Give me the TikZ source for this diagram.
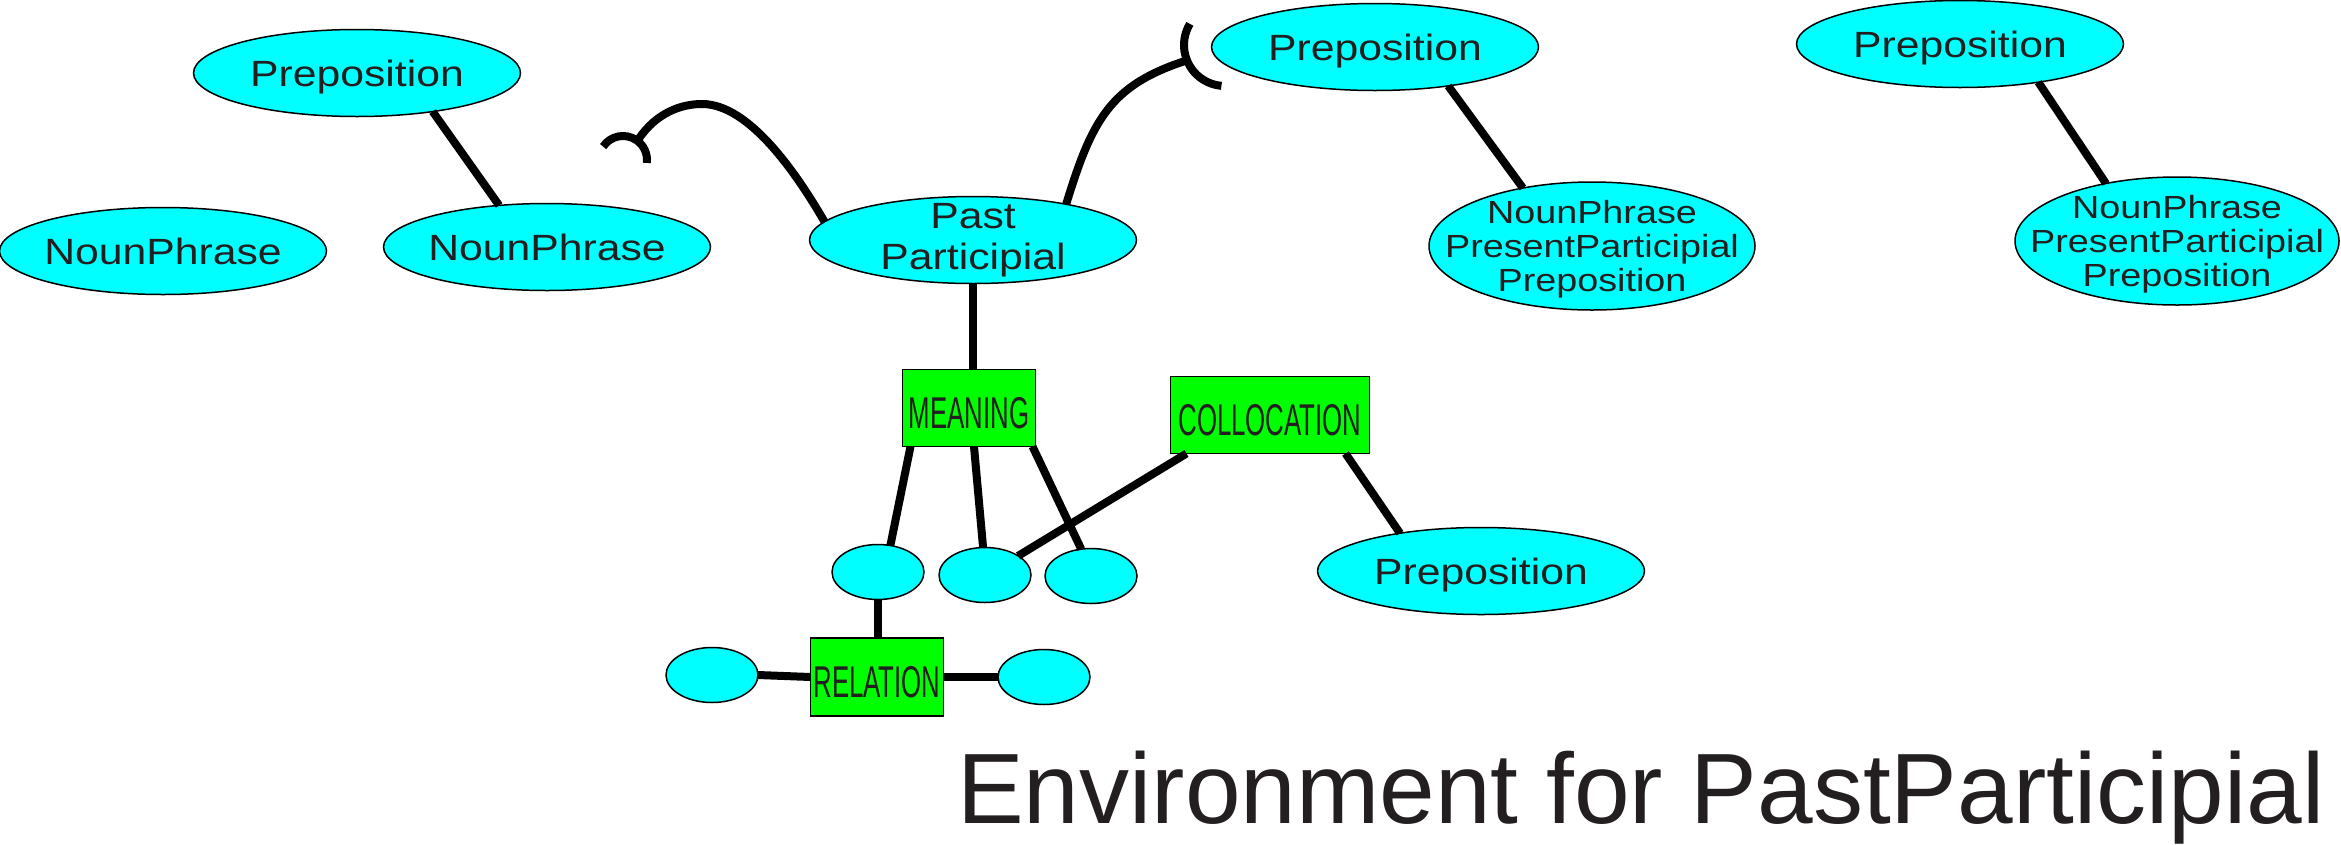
\documentclass[tikz,border=0pt]{standalone}
\usepackage{fontspec}
\setmainfont{Liberation Sans}
\newfontfamily\elfont[FakeStretch=1.17]{Liberation Sans}
\newfontfamily\elfontb[FakeStretch=1.18]{Liberation Sans}
\newfontfamily\bxfont[FakeStretch=0.58]{Liberation Sans}
\usetikzlibrary{shapes.geometric}
\definecolor{elcyan}{RGB}{0,255,255}
\definecolor{bxgreen}{RGB}{0,255,0}
\definecolor{ink}{RGB}{35,31,32}
\begin{document}
\begin{tikzpicture}[x=1pt,y=-1pt,
  ell/.style={ellipse, draw=black, line width=1.5pt, fill=elcyan, inner sep=-400pt, outer sep=0pt,
    text=ink, font=\elfont\fontsize{36.5}{41}\selectfont, minimum width=327pt, minimum height=87pt},
  ellone/.style={ell, text height=26pt, text depth=0pt},
  elltwo/.style={ell, align=center},
  ellthree/.style={ell, align=center, font=\elfontb\fontsize{32}{34}\selectfont, minimum width=326pt, minimum height=128pt},
  small/.style={ell, minimum width=92pt, minimum height=55pt},
  gbox/.style={rectangle, draw=black, line width=1.5pt, fill=bxgreen, inner sep=0pt, outer sep=0pt,
    text=ink, font=\bxfont\fontsize{44.5}{50}\selectfont, text height=40pt, text depth=0pt},
  conn/.style={draw=black, line width=8pt}]
\useasboundingbox (0,0) rectangle (2341,844);

% ellipses
\node[ellone] (ptl) at (357,73) {Preposition};
\node[ellone] (npl) at (163,251) {NounPhrase};
\node[ellone] (np2) at (547,247) {NounPhrase};
\node[elltwo] (pp) at (973,240) {Past\\Participial};
\node[ellone] (ptm) at (1375,47) {Preposition};
\node[ellthree] (npm) at (1592,246) {\rule{0pt}{30pt}NounPhrase\\PresentParticipial\\Preposition};
\node[ellone] (ptr) at (1960,44) {Preposition};
\node[ellthree, minimum width=324pt] (npr) at (2177,241) {\rule{0pt}{30pt}NounPhrase\\PresentParticipial\\Preposition};
\node[ellone] (pb) at (1481,571) {Preposition};

\node[small] (e1) at (878,572) {};
\node[small] (e2) at (985,575) {};
\node[small] (e3) at (1091,576) {};
\node[small] (eL) at (712,675) {};
\node[small] (eR) at (1044,677) {};

% boxes
\node[gbox, minimum width=133pt, minimum height=77pt] (m) at (969,408) {MEANING};
\node[gbox, minimum width=199pt, minimum height=77pt] (c) at (1270,415) {COLLOCATION};
\node[gbox, minimum width=133pt, minimum height=78pt] (r) at (877,677) {RELATION};

% straight connectors
\draw[conn] (ptl.-27) -- (np2.139);
\draw[conn] (ptm.-28) -- (npm.140);
\draw[conn] (ptr.-26) -- (npr.141);
\draw[conn] (pp.south) -- (pp.south |- m.north);
\draw[conn] ([xshift=8pt]m.south west) -- (e1.65);
\draw[conn] ([xshift=5pt]m.south) -- (e2.94);
\draw[conn] ([xshift=-3pt]m.south east) -- (e3.110);
\draw[conn] ([xshift=16pt]c.south west) -- (e2.30);
\draw[conn] ([xshift=-24pt]c.south east) -- (pb.155);
\draw[conn] (e1.south) -- (e1.south |- r.north);
\draw[conn] (eL.east) -- (r.west);
\draw[conn] (r.east) -- (eR.west);

% socket connectors
\coordinate (k1) at (623,160);
\coordinate (k2) at (1225,45);
\coordinate (s1) at ([shift={(-53:24)}]k1);
\coordinate (s2) at ([shift={(-202:41)}]k2);
\draw[conn] (pp.173) .. controls (798,176) and (750,104) .. (702,104)
  .. controls (675,104) and (652,118) .. (s1);
\draw[conn] (k1) ++(-146:24) arc[start angle=-146, end angle=7, radius=24];
\draw[conn] (pp.21) .. controls (1092,120) and (1110,85) .. (s2);
\draw[conn] (k2) ++(-149:41) arc[start angle=-149, end angle=-265, radius=41];

% title
\node[font=\fontsize{100}{110}\selectfont, text=ink, anchor=base west, inner sep=0pt] (title) at (957,823) {Environment for PastParticipial};
\end{tikzpicture}
\end{document}
